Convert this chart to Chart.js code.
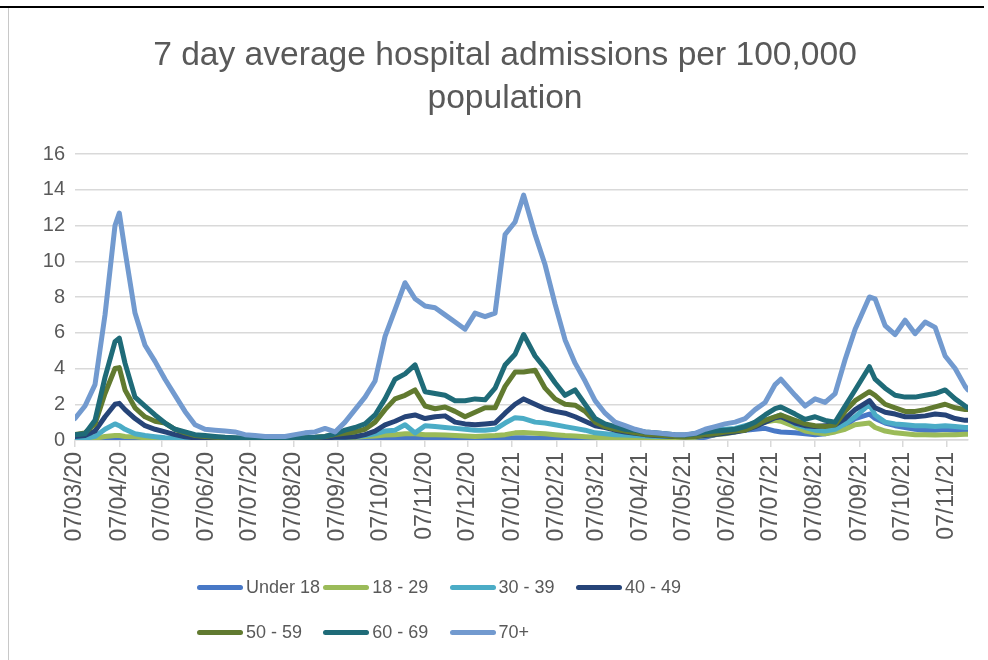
<!DOCTYPE html>
<html>
<head>
<meta charset="utf-8">
<script src="https://cdn.jsdelivr.net/npm/chart.js@4.4.0/dist/chart.umd.min.js"></script>
<style>
html,body{margin:0;padding:0;background:#fff;}
#wrap{position:relative;width:988px;height:660px;overflow:hidden;background:#fff;}
#c{position:absolute;left:0;top:0;}
#topline{position:absolute;left:0;top:6px;width:984px;height:2px;background:#000;}
#leftline{position:absolute;left:8px;top:8px;width:1px;height:652px;background:#c8c8c8;}
#legend{position:absolute;left:197px;top:565px;display:grid;grid-template-columns:repeat(4,126.3px);grid-auto-rows:45px;font-family:'Liberation Sans',Arial,sans-serif;font-size:18px;color:#595959;}
.item{display:flex;align-items:center;white-space:nowrap;}
.swatch{width:46px;height:5px;border-radius:3px;margin-right:3px;flex:none;}
</style>
</head>
<body>
<div id="wrap">
  <canvas id="c" width="988" height="660"></canvas>
  <div id="topline"></div>
  <div id="leftline"></div>
  <div id="legend"></div>
</div>
<script>
// ---- data (days since 07/03/2020) ----
const tickLabels = ['07/03/20','07/04/20','07/05/20','07/06/20','07/07/20','07/08/20','07/09/20','07/10/20','07/11/20','07/12/20','07/01/21','07/02/21','07/03/21','07/04/21','07/05/21','07/06/21','07/07/21','07/08/21','07/09/21','07/10/21','07/11/21'];
const seriesNames = ['Under 18','18 - 29','30 - 39','40 - 49','50 - 59','60 - 69','70+'];
const days = [0,7,14,21,28,31,35,42,49,56,63,70,77,84,91,98,105,112,119,126,133,140,147,154,161,168,175,182,189,196,203,210,217,224,231,238,245,252,259,266,273,280,287,294,301,308,314,322,329,336,343,350,357,364,371,378,385,392,399,406,413,420,427,434,441,448,455,462,469,476,483,490,494,504,511,518,525,532,539,546,556,560,567,574,581,588,595,602,609,616,623,625];

const under18 = [0.03,0.03,0.04,0.05,0.06,0.06,0.05,0.05,0.04,0.03,
 0.03,0.03,0.03,0.03,0.03,0.03,0.03,0.03,0.03,0.03,
 0.03,0.03,0.03,0.03,0.03,0.03,0.03,0.04,0.05,0.05,
 0.06,0.06,0.07,0.08,0.08,0.08,0.08,0.07,0.07,0.07,
 0.06,0.06,0.07,0.08,0.1,0.12,0.12,0.1,0.09,0.08,
 0.07,0.06,0.06,0.05,0.05,0.05,0.05,0.05,0.05,0.05,
 0.05,0.06,0.07,0.08,0.15,0.3,0.45,0.5,0.55,0.6,
 0.65,0.5,0.45,0.4,0.35,0.3,0.35,0.5,0.8,1.2,
 1.45,1.2,0.95,0.8,0.7,0.6,0.55,0.55,0.6,0.55,
 0.5,0.5];
const age18to29 = [0.05,0.05,0.1,0.2,0.25,0.25,0.2,0.18,0.12,0.1,
 0.08,0.05,0.05,0.05,0.05,0.05,0.05,0.05,0.05,0.05,
 0.05,0.05,0.05,0.05,0.05,0.06,0.08,0.1,0.12,0.15,
 0.2,0.22,0.28,0.3,0.35,0.35,0.3,0.3,0.28,0.25,
 0.22,0.2,0.22,0.25,0.3,0.4,0.42,0.38,0.35,0.3,
 0.25,0.22,0.18,0.15,0.12,0.1,0.1,0.1,0.1,0.1,
 0.1,0.1,0.12,0.15,0.25,0.3,0.35,0.45,0.6,0.8,
 1.0,1.1,1.05,0.75,0.5,0.4,0.35,0.45,0.6,0.85,
 0.95,0.7,0.5,0.4,0.35,0.3,0.3,0.28,0.3,0.3,
 0.32,0.32];
const age30to39 = [0.05,0.08,0.2,0.6,0.9,0.8,0.6,0.35,0.25,0.18,
 0.12,0.1,0.08,0.08,0.08,0.08,0.08,0.08,0.08,0.08,
 0.08,0.08,0.08,0.08,0.08,0.08,0.1,0.12,0.15,0.2,
 0.25,0.35,0.5,0.55,0.85,0.4,0.8,0.75,0.7,0.65,
 0.6,0.55,0.55,0.6,0.95,1.25,1.2,1.0,0.95,0.85,
 0.75,0.65,0.55,0.4,0.35,0.3,0.28,0.25,0.22,0.2,
 0.2,0.22,0.25,0.35,0.55,0.6,0.6,0.65,0.8,0.95,
 1.1,1.3,1.4,0.9,0.7,0.55,0.5,0.6,0.9,1.3,
 2.0,1.4,1.0,0.9,0.85,0.8,0.8,0.75,0.8,0.75,
 0.7,0.7];
const age40to49 = [0.2,0.25,0.5,1.3,2.0,2.05,1.7,1.2,0.8,0.6,
 0.45,0.3,0.18,0.12,0.1,0.08,0.08,0.08,0.08,0.08,
 0.08,0.08,0.08,0.08,0.1,0.12,0.12,0.15,0.15,0.18,
 0.3,0.5,0.85,1.05,1.3,1.4,1.2,1.3,1.35,1.0,
 0.9,0.85,0.9,0.95,1.5,2.0,2.3,2.0,1.75,1.6,
 1.5,1.3,1.05,0.8,0.7,0.55,0.45,0.37,0.3,0.25,
 0.22,0.2,0.18,0.2,0.25,0.3,0.37,0.45,0.55,0.75,
 1.0,1.25,1.3,0.95,0.8,0.75,0.8,0.85,1.2,1.7,
 2.2,1.8,1.55,1.45,1.3,1.3,1.35,1.45,1.4,1.2,
 1.1,1.1];
const age50to59 = [0.3,0.4,0.9,2.6,4.0,4.05,2.8,1.8,1.3,1.05,
 0.95,0.6,0.4,0.25,0.2,0.15,0.12,0.1,0.1,0.1,
 0.1,0.1,0.1,0.1,0.12,0.15,0.2,0.3,0.37,0.45,
 0.6,1.0,1.7,2.3,2.5,2.8,1.9,1.75,1.85,1.6,
 1.3,1.55,1.8,1.8,3.0,3.8,3.8,3.9,2.9,2.3,
 2.0,1.95,1.6,1.0,0.75,0.6,0.5,0.4,0.32,0.28,
 0.25,0.2,0.18,0.2,0.3,0.35,0.45,0.5,0.55,0.8,
 1.1,1.3,1.4,1.1,0.9,0.8,0.75,0.85,1.6,2.2,
 2.7,2.5,2.0,1.8,1.6,1.6,1.7,1.85,2.0,1.8,
 1.7,1.7];
const age60to69 = [0.3,0.35,1.1,3.5,5.5,5.7,4.3,2.4,1.9,1.4,
 0.95,0.6,0.45,0.3,0.25,0.2,0.15,0.12,0.1,0.1,
 0.1,0.1,0.1,0.1,0.12,0.15,0.2,0.35,0.55,0.7,
 0.9,1.4,2.3,3.4,3.7,4.2,2.7,2.6,2.5,2.2,
 2.2,2.3,2.25,2.9,4.2,4.8,5.9,4.7,4.0,3.2,
 2.5,2.8,2.0,1.2,0.9,0.75,0.6,0.55,0.45,0.4,
 0.35,0.3,0.28,0.35,0.45,0.5,0.55,0.6,0.75,1.0,
 1.4,1.75,1.85,1.45,1.15,1.3,1.1,1.0,1.9,2.8,
 4.1,3.4,2.9,2.5,2.4,2.4,2.5,2.6,2.8,2.3,
 1.9,1.8];
const age70plus = [1.2,1.9,3.1,7.0,12.0,12.7,10.6,7.1,5.3,4.4,
 3.4,2.5,1.6,0.85,0.6,0.55,0.5,0.45,0.3,0.25,
 0.2,0.2,0.2,0.3,0.4,0.45,0.65,0.45,1.0,1.7,
 2.4,3.3,5.8,7.3,8.8,7.9,7.5,7.4,7.0,6.6,
 6.2,7.1,6.9,7.1,11.5,12.2,13.7,11.5,9.8,7.6,
 5.6,4.3,3.3,2.2,1.5,1.0,0.8,0.6,0.45,0.4,
 0.35,0.3,0.3,0.37,0.6,0.75,0.9,1.0,1.2,1.7,
 2.1,3.1,3.4,2.5,1.9,2.3,2.1,2.6,4.5,6.2,
 8.0,7.9,6.4,5.9,6.7,5.95,6.6,6.3,4.7,4.0,
 3.0,2.8];

const series = [under18, age18to29, age30to39, age40to49, age50to59, age60to69, age70plus];
const colors = ['#4878C6','#9BBB59','#4BACC6','#264478','#617A30','#1F6B78','#729ACF'];

// ---- tick positions from labels ----
const DAY = 86400000;
const start = Date.UTC(2020, 2, 7);
const tickDays = tickLabels.map(s => {
  const [d, m, y] = s.split('/').map(Number);
  return Math.round((Date.UTC(2000 + y, m - 1, d) - start) / DAY);
});

Chart.defaults.font.family = "'Liberation Sans', Arial, sans-serif";
Chart.defaults.color = '#595959';

const chart = new Chart(document.getElementById('c'), {
  type: 'line',
  data: {
    datasets: series.map((vals, i) => ({
      label: seriesNames[i],
      data: days.map((d, j) => ({ x: d, y: vals[j] })),
      borderColor: colors[i],
      backgroundColor: colors[i],
      borderWidth: 5,
      pointRadius: 0,
      tension: 0,
      fill: false,
      borderCapStyle: 'round',
      borderJoinStyle: 'round',
      order: series.length - i
    }))
  },
  options: {
    responsive: false,
    animation: false,
    devicePixelRatio: 1,
    layout: { padding: { left: 42, right: 20, top: 0, bottom: 110 } },
    plugins: {
      legend: { display: false, labels: { sort: (a, b) => a.datasetIndex - b.datasetIndex } },
      tooltip: { enabled: false },
      title: {
        display: true,
        text: ['7 day average hospital admissions per 100,000', 'population'],
        font: { size: 33.6, weight: 'normal', lineHeight: 1.28 },
        color: '#595959',
        padding: { top: 34, bottom: 34 }
      }
    },
    scales: {
      x: {
        type: 'linear',
        min: 0,
        max: 625,
        afterBuildTicks: s => { s.ticks = tickDays.map(v => ({ value: v })); },
        afterFit: s => { s.height = 110; },
        ticks: {
          autoSkip: false,
          minRotation: 90,
          maxRotation: 90,
          padding: 5,
          font: { size: 23 },
          color: '#595959',
          callback: (v) => { const k = tickDays.indexOf(v); return k >= 0 ? tickLabels[k] : ''; }
        },
        grid: { drawOnChartArea: false, drawTicks: true, tickLength: 7, color: '#D9D9D9', lineWidth: 1.5 },
        border: { display: true, color: '#D9D9D9', width: 1.5 }
      },
      y: {
        min: 0,
        max: 16,
        afterFit: s => { s.width = 33; },
        ticks: { stepSize: 2, padding: 10, font: { size: 20 }, color: '#595959' },
        grid: { color: '#D9D9D9', lineWidth: 1.5, drawTicks: false },
        border: { display: false }
      }
    }
  }
});

// ---- legend (HTML, built from the chart's own legend items) ----
const items = Chart.defaults.plugins.legend.labels.generateLabels(chart)
  .sort((a, b) => a.datasetIndex - b.datasetIndex);
const leg = document.getElementById('legend');
items.forEach(it => {
  const div = document.createElement('div');
  div.className = 'item';
  const sw = document.createElement('span');
  sw.className = 'swatch';
  sw.style.background = it.strokeStyle;
  const tx = document.createElement('span');
  tx.textContent = it.text;
  div.appendChild(sw);
  div.appendChild(tx);
  leg.appendChild(div);
});
</script>
</body>
</html>
